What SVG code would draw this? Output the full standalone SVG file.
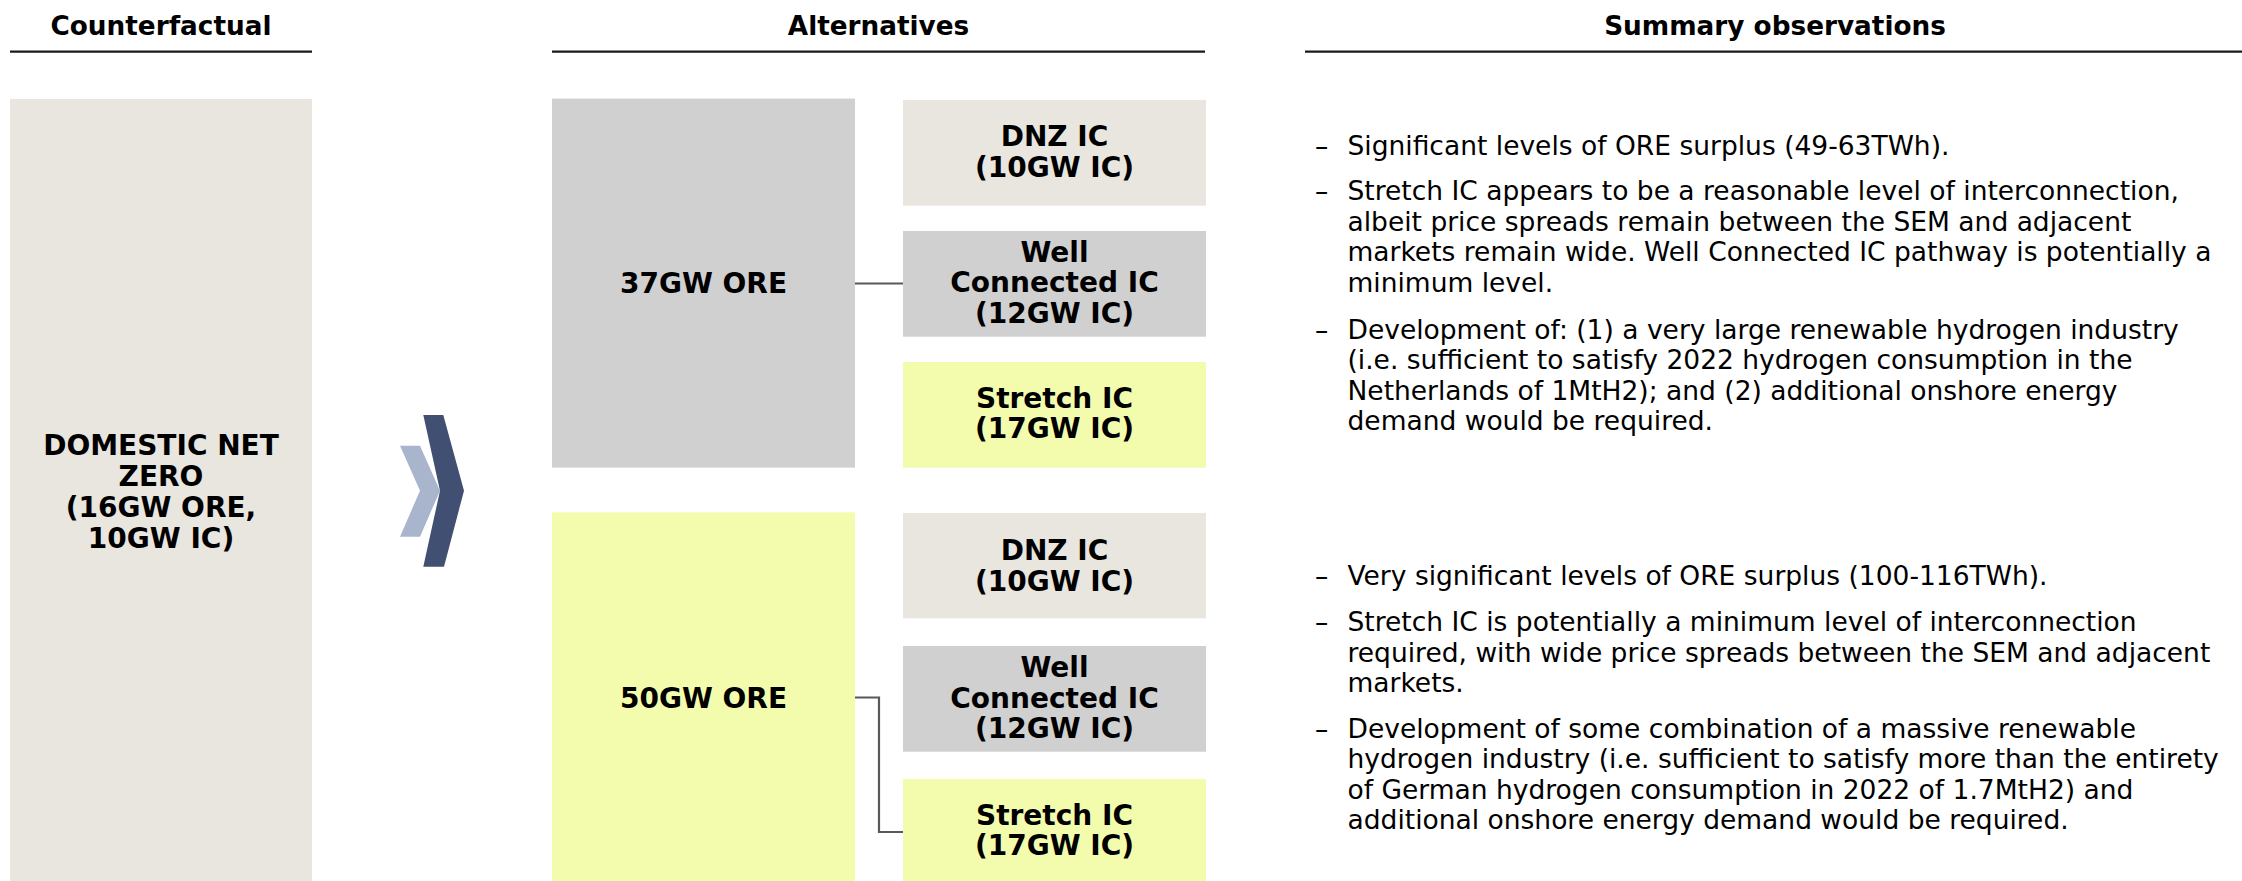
<svg xmlns="http://www.w3.org/2000/svg" width="2242" height="881" viewBox="0 0 2242 881">
<style>
.hd{font-family:"DejaVu Sans",Verdana,sans-serif;font-weight:bold;font-size:26.3px;fill:#000;text-anchor:middle}
.nt{font-family:"DejaVu Sans",Verdana,sans-serif;font-weight:bold;font-size:28px;fill:#000;text-anchor:middle}
.bt{font-family:"DejaVu Sans",Verdana,sans-serif;font-size:26.5px;fill:#000}
.rule{stroke:#1a1a1a;stroke-width:2.2}
.beige{fill:#E8E6DF}
.gray{fill:#D0D0D0}
.yel{fill:#F2FCAC}
.conn{fill:none;stroke:#595959;stroke-width:2.2}
</style>
<rect width="2242" height="881" fill="#fff"/>
<g id="headers">
<text class="hd" x="161" y="35">Counterfactual</text>
<text class="hd" x="878.5" y="35">Alternatives</text>
<text class="hd" x="1775" y="35">Summary observations</text>
<line class="rule" x1="10" y1="51.7" x2="312" y2="51.7"/>
<line class="rule" x1="552" y1="51.7" x2="1205" y2="51.7"/>
<line class="rule" x1="1305" y1="51.7" x2="2242" y2="51.7"/>
</g>
<g id="connectors">
<path class="conn" d="M855 283.5 H903"/>
<path class="conn" d="M855 697.5 H879 V832 H903"/>
</g>
<g id="counterfactual">
<rect class="beige" x="10" y="99" width="302" height="782"/>
<text class="nt" x="161" y="455">DOMESTIC NET</text>
<text class="nt" x="161" y="486">ZERO</text>
<text class="nt" x="161" y="517">(16GW ORE,</text>
<text class="nt" x="161" y="548">10GW IC)</text>
</g>
<g id="chevron">
<polygon fill="#A9B5CC" points="400,445.7 420,445.7 440,490.7 420,536.7 400,536.7 420,490.7"/>
<polygon fill="#415072" points="423.3,415 443.3,415 464,490.7 444,566.7 423.3,566.7 440,490.7"/>
</g>
<g id="ore37">
<rect class="gray" x="552" y="98.6" width="303" height="369"/>
<text class="nt" x="703.5" y="293">37GW ORE</text>
</g>
<g id="dnz1">
<rect class="beige" x="903" y="100" width="303" height="105.7"/>
<text class="nt" x="1054.5" y="145.7">DNZ IC</text>
<text class="nt" x="1054.5" y="176.7">(10GW IC)</text>
</g>
<g id="well1">
<rect class="gray" x="903" y="231" width="303" height="105.7"/>
<text class="nt" x="1054.5" y="261.7">Well</text>
<text class="nt" x="1054.5" y="292.3">Connected IC</text>
<text class="nt" x="1054.5" y="323.3">(12GW IC)</text>
</g>
<g id="stretch1">
<rect class="yel" x="903" y="362" width="303" height="105.7"/>
<text class="nt" x="1054.5" y="408.3">Stretch IC</text>
<text class="nt" x="1054.5" y="438.3">(17GW IC)</text>
</g>
<g id="ore50">
<rect class="yel" x="552" y="512.3" width="303" height="368.7"/>
<text class="nt" x="703.5" y="707.5">50GW ORE</text>
</g>
<g id="dnz2">
<rect class="beige" x="903" y="513" width="303" height="105.3"/>
<text class="nt" x="1054.5" y="560">DNZ IC</text>
<text class="nt" x="1054.5" y="591">(10GW IC)</text>
</g>
<g id="well2">
<rect class="gray" x="903" y="646" width="303" height="105.7"/>
<text class="nt" x="1054.5" y="676.7">Well</text>
<text class="nt" x="1054.5" y="708.3">Connected IC</text>
<text class="nt" x="1054.5" y="738.3">(12GW IC)</text>
</g>
<g id="stretch2">
<rect class="yel" x="903" y="779" width="303" height="102"/>
<text class="nt" x="1054.5" y="825">Stretch IC</text>
<text class="nt" x="1054.5" y="855">(17GW IC)</text>
</g>
<g id="summary1">
<text class="bt" x="1315" y="154.5">–</text>
<text class="bt" x="1347.5" y="154.5">Significant levels of ORE surplus (49-63TWh).</text>
<text class="bt" x="1315" y="200">–</text>
<text class="bt" x="1347.5" y="200">Stretch IC appears to be a reasonable level of interconnection,</text>
<text class="bt" x="1347.5" y="230.5">albeit price spreads remain between the SEM and adjacent</text>
<text class="bt" x="1347.5" y="261">markets remain wide. Well Connected IC pathway is potentially a</text>
<text class="bt" x="1347.5" y="291.5">minimum level.</text>
<text class="bt" x="1315" y="338.5">–</text>
<text class="bt" x="1347.5" y="338.5">Development of: (1) a very large renewable hydrogen industry</text>
<text class="bt" x="1347.5" y="369">(i.e. sufficient to satisfy 2022 hydrogen consumption in the</text>
<text class="bt" x="1347.5" y="399.5">Netherlands of 1MtH2); and (2) additional onshore energy</text>
<text class="bt" x="1347.5" y="430">demand would be required.</text>
</g>
<g id="summary2">
<text class="bt" x="1315" y="585">–</text>
<text class="bt" x="1347.5" y="585">Very significant levels of ORE surplus (100-116TWh).</text>
<text class="bt" x="1315" y="631">–</text>
<text class="bt" x="1347.5" y="631">Stretch IC is potentially a minimum level of interconnection</text>
<text class="bt" x="1347.5" y="661.5">required, with wide price spreads between the SEM and adjacent</text>
<text class="bt" x="1347.5" y="692">markets.</text>
<text class="bt" x="1315" y="737.5">–</text>
<text class="bt" x="1347.5" y="737.5">Development of some combination of a massive renewable</text>
<text class="bt" x="1347.5" y="768">hydrogen industry (i.e. sufficient to satisfy more than the entirety</text>
<text class="bt" x="1347.5" y="798.5">of German hydrogen consumption in 2022 of 1.7MtH2) and</text>
<text class="bt" x="1347.5" y="829">additional onshore energy demand would be required.</text>
</g>
</svg>
